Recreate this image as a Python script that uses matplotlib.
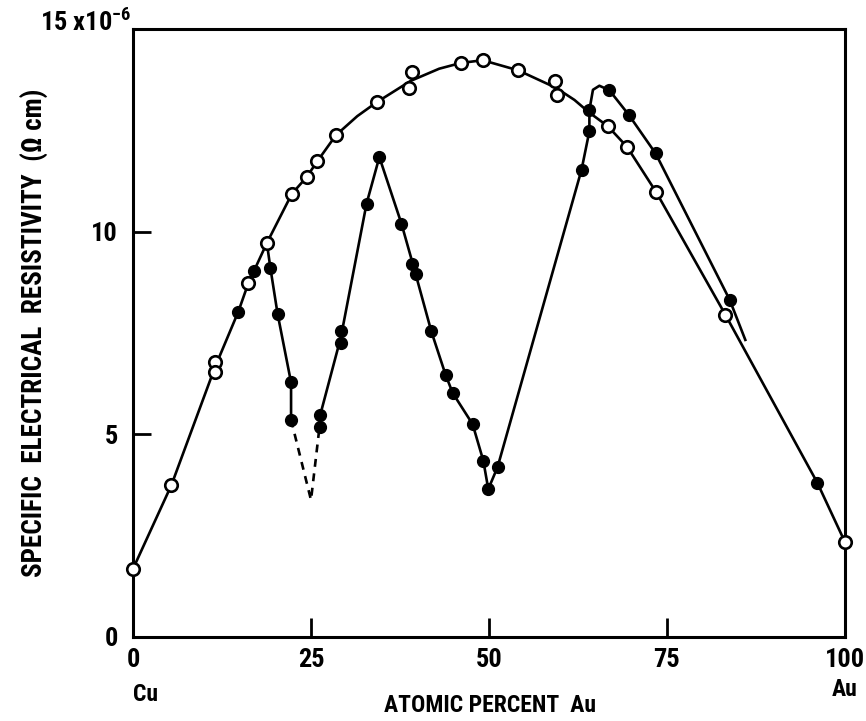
import matplotlib
matplotlib.use("Agg")
import matplotlib.pyplot as plt
from matplotlib import font_manager as fm

_avail = {f.name for f in fm.fontManager.ttflist}
_cands = ['Liberation Sans Narrow', 'Roboto Condensed', 'Archivo Narrow', 'Open Sans Condensed']
_fam = [c for c in _cands if c in _avail][:1] + ['DejaVu Sans']
plt.rcParams['font.family'] = _fam
plt.rcParams['font.weight'] = 'bold'
plt.rcParams['mathtext.fontset'] = 'custom'
plt.rcParams['mathtext.rm'] = _fam[0] + ':bold'
plt.rcParams['mathtext.default'] = 'rm'

# ---- data ----
# open circles (disordered / quenched alloys)
open_x = [0.0, 5.4, 11.5, 11.5, 16.2, 18.8, 22.3, 24.4, 25.9, 28.5, 34.2, 38.8, 39.2,
          46.0, 49.1, 54.1, 59.2, 59.6, 66.7, 69.4, 73.5, 83.2, 100.0]
open_y = [1.68, 3.75, 6.78, 6.53, 8.73, 9.72, 10.93, 11.35, 11.74, 12.38, 13.19, 13.55, 13.93,
          14.16, 14.23, 13.98, 13.71, 13.36, 12.60, 12.09, 10.97, 7.95, 2.34]

# filled circles (ordered / annealed alloys)
filled_x = [14.8, 17.0, 19.3, 20.3, 22.2, 22.2, 26.2, 26.3, 29.2, 29.2, 32.8, 34.6,
            37.7, 39.2, 39.8, 41.9, 43.9, 44.9, 47.7, 49.2, 49.9, 51.2,
            63.0, 64.1, 64.1, 66.9, 69.6, 73.4, 83.8, 96.1]
filled_y = [8.03, 9.02, 9.10, 7.98, 6.28, 5.36, 5.19, 5.48, 7.54, 7.25, 10.69, 11.84,
            10.20, 9.20, 8.96, 7.54, 6.47, 6.02, 5.25, 4.35, 3.65, 4.19,
            11.53, 12.48, 13.00, 13.49, 12.89, 11.93, 8.32, 3.81]

# curve drawn through the disordered alloys
curve_open_x = [0.0, 5.4, 11.5, 14.8, 16.2, 18.8, 22.3, 24.4, 25.9, 28.5, 31.5, 34.2, 39.0,
                43.0, 46.0, 49.1, 54.1, 59.4, 62.0, 64.0, 66.7, 69.4, 73.5, 83.2, 96.1, 100.0]
curve_open_y = [1.68, 3.75, 6.65, 8.03, 8.73, 9.72, 10.93, 11.35, 11.74, 12.38, 12.85, 13.19, 13.72,
                14.02, 14.16, 14.23, 13.98, 13.55, 13.25, 12.95, 12.60, 12.09, 10.97, 7.95, 3.81, 2.34]

# curve drawn through the ordered alloys (solid parts + dashed extrapolation)
curve_fill1_x = [18.8, 19.3, 20.3, 22.2, 22.2]
curve_fill1_y = [9.72, 9.10, 7.98, 6.28, 5.36]
curve_dash_x = [22.2, 25.0, 26.2]
curve_dash_y = [5.36, 3.38, 5.19]
curve_fill2_x = [26.2, 26.3, 29.2, 32.8, 34.6, 37.7, 39.5, 41.9, 43.9, 44.9, 47.7, 49.2,
                 49.9, 51.2, 63.0, 64.1, 64.1, 64.6, 65.5, 66.9, 69.6, 73.4, 83.8, 86.0]
curve_fill2_y = [5.19, 5.48, 7.40, 10.69, 11.84, 10.20, 9.08, 7.54, 6.47, 6.02, 5.25, 4.35,
                 3.65, 4.19, 11.53, 12.48, 13.00, 13.50, 13.60, 13.49, 12.89, 11.93, 8.32, 7.33]

x_ticks = [0, 25, 50, 75, 100]
x_tick_labels = ['0', '25', '50', '75', '100']
y_ticks = [0, 5, 10]
y_tick_labels = ['0', '5', '10']
y_top_label = '15 x10$^{-6}$'

# ---- figure ----
fig = plt.figure(figsize=(8.66, 7.21), dpi=100)
ax = fig.add_axes([133/866, (721-637)/721, 712/866, 608/721])

lw = 1.9
ax.plot(curve_open_x, curve_open_y, color='black', lw=lw, zorder=2, clip_on=False)
ax.plot(curve_fill1_x, curve_fill1_y, color='black', lw=lw, zorder=2)
ax.plot(curve_dash_x, curve_dash_y, color='black', lw=lw, ls=(0, (3, 2.5)), zorder=2)
ax.plot(curve_fill2_x, curve_fill2_y, color='black', lw=lw, zorder=2)

ax.plot(open_x, open_y, ls='none', marker='o', ms=9, mfc='white', mec='black',
        mew=1.9, zorder=4, clip_on=False)
ax.plot(filled_x, filled_y, ls='none', marker='o', ms=8.5, mfc='black', mec='black',
        zorder=4, clip_on=False)

ax.set_xlim(0, 100)
ax.set_ylim(0, 15)

for s in ax.spines.values():
    s.set_linewidth(2.2)

ax.set_xticks(x_ticks)
ax.set_xticklabels(x_tick_labels)
ax.set_yticks(y_ticks)
ax.set_yticklabels(y_tick_labels)
ax.tick_params(axis='x', direction='in', length=14, width=2, pad=8, labelsize=19)
ax.tick_params(axis='y', direction='in', length=13, width=2, pad=11, labelsize=19)
for t in ax.get_xticklabels() + ax.get_yticklabels():
    t.set_fontweight('bold')

# top-left label of the y axis (15 x 10^-6)
ax.text(-0.1306, 1.0115, y_top_label, transform=ax.transAxes, ha='left', va='center',
        fontsize=19, fontweight='bold')

ax.set_ylabel('SPECIFIC  ELECTRICAL  RESISTIVITY  (\u03a9 cm)', fontsize=19.5, labelpad=30,
              fontweight='bold')
ax.text(0.501, -0.112, 'ATOMIC PERCENT  Au', transform=ax.transAxes, ha='center', va='center',
        fontsize=17, fontweight='bold')
ax.text(0.0, -0.095, 'Cu', transform=ax.get_xaxis_transform(), ha='left', va='center',
        fontsize=17, fontweight='bold')
ax.text(100.0, -0.087, 'Au', transform=ax.get_xaxis_transform(), ha='center', va='center',
        fontsize=17, fontweight='bold')

fig.savefig('out.png', dpi=100)
